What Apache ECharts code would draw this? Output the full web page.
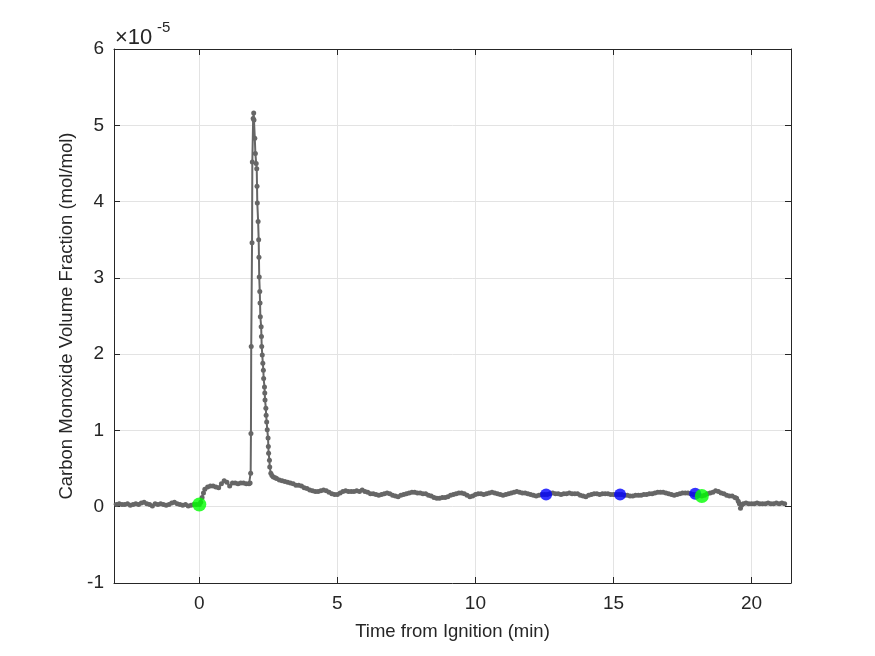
<!DOCTYPE html>
<html>
<head>
<meta charset="utf-8">
<script src="https://cdn.jsdelivr.net/npm/echarts@6/dist/echarts.min.js"></script>
<style>
  html, body { margin: 0; padding: 0; background: #fff; }
  #chart { width: 875px; height: 656px; }
</style>
</head>
<body>
<div id="chart"></div>
<script>
// CO volume fraction, values in units of 1e-5 mol/mol, time in minutes from ignition
var preIgnition = [
  [-3.1, 0.04], [-3.0, 0.03], [-2.9, 0.04], [-2.8, 0.03], [-2.7, 0.03], [-2.6, 0.04],
  [-2.5, 0.02], [-2.4, 0.03], [-2.3, 0.04], [-2.2, 0.03], [-2.1, 0.05], [-2.0, 0.06],
  [-1.9, 0.04], [-1.8, 0.03], [-1.7, 0.01], [-1.6, 0.04], [-1.5, 0.03], [-1.4, 0.04],
  [-1.3, 0.03], [-1.2, 0.02], [-1.1, 0.03], [-1.0, 0.05], [-0.9, 0.06], [-0.8, 0.04],
  [-0.7, 0.03], [-0.6, 0.02], [-0.5, 0.03], [-0.4, 0.01], [-0.3, 0.02], [-0.2, 0.03],
  [-0.1, 0.03], [0.0, 0.03]
];
var plateau = [
  [0.05, 0.06], [0.1, 0.12], [0.15, 0.18], [0.2, 0.23], [0.3, 0.26], [0.4, 0.27],
  [0.5, 0.27], [0.6, 0.26], [0.7, 0.25], [0.8, 0.30], [0.9, 0.34], [1.0, 0.32],
  [1.1, 0.27], [1.2, 0.31], [1.3, 0.31], [1.4, 0.30], [1.5, 0.31], [1.6, 0.31],
  [1.7, 0.30], [1.8, 0.30], [1.84, 0.31]
];
var spike = [
  [1.86, 0.44], [1.87, 0.96], [1.88, 2.10], [1.91, 3.46], [1.92, 4.52], [1.95, 5.09],
  [1.97, 5.16], [1.98, 5.07], [2.01, 4.83], [2.03, 4.63], [2.06, 4.50], [2.08, 4.43],
  [2.09, 4.20], [2.10, 3.98], [2.13, 3.74], [2.15, 3.50], [2.16, 3.27], [2.17, 3.01],
  [2.19, 2.82], [2.20, 2.67], [2.21, 2.49], [2.24, 2.36], [2.25, 2.23], [2.26, 2.10],
  [2.28, 1.99], [2.30, 1.88], [2.32, 1.79], [2.33, 1.68], [2.36, 1.57], [2.37, 1.49],
  [2.38, 1.40], [2.41, 1.29], [2.42, 1.20], [2.44, 1.11], [2.46, 1.01], [2.49, 0.90],
  [2.50, 0.79], [2.51, 0.70], [2.54, 0.61], [2.55, 0.52], [2.59, 0.44], [2.63, 0.41],
  [2.68, 0.39], [2.75, 0.38], [2.8, 0.37], [2.9, 0.35], [3.0, 0.34]
];
var decay = [
  [3.1, 0.33], [3.2, 0.32], [3.3, 0.31], [3.4, 0.30], [3.5, 0.28], [3.6, 0.28],
  [3.7, 0.27], [3.8, 0.25], [3.9, 0.24], [4.0, 0.22], [4.1, 0.21], [4.2, 0.20],
  [4.3, 0.20], [4.4, 0.21], [4.5, 0.22], [4.6, 0.21], [4.7, 0.19], [4.8, 0.17],
  [4.9, 0.16], [5.0, 0.16], [5.1, 0.18], [5.2, 0.20], [5.3, 0.21], [5.4, 0.20],
  [5.5, 0.20], [5.6, 0.20], [5.7, 0.21], [5.8, 0.20], [5.9, 0.22], [6.0, 0.20],
  [6.1, 0.19], [6.2, 0.17], [6.3, 0.17], [6.4, 0.16], [6.5, 0.15], [6.6, 0.16],
  [6.7, 0.17], [6.8, 0.18], [6.9, 0.17], [7.0, 0.15], [7.1, 0.14], [7.2, 0.13],
  [7.3, 0.15], [7.4, 0.16], [7.5, 0.17], [7.6, 0.18], [7.7, 0.19], [7.8, 0.19],
  [7.9, 0.18], [8.0, 0.18], [8.1, 0.17], [8.2, 0.17], [8.3, 0.15], [8.4, 0.14],
  [8.5, 0.12], [8.6, 0.11], [8.7, 0.11], [8.8, 0.12], [8.9, 0.12], [9.0, 0.13],
  [9.1, 0.15], [9.2, 0.16], [9.3, 0.17], [9.4, 0.18], [9.5, 0.18], [9.6, 0.17],
  [9.7, 0.15], [9.8, 0.13], [9.9, 0.14], [10.0, 0.16], [10.1, 0.17], [10.2, 0.17],
  [10.3, 0.16], [10.4, 0.17], [10.5, 0.18], [10.6, 0.19], [10.7, 0.18], [10.8, 0.17],
  [10.9, 0.16], [11.0, 0.15], [11.1, 0.16], [11.2, 0.17], [11.3, 0.18], [11.4, 0.19],
  [11.5, 0.20], [11.6, 0.19], [11.7, 0.18], [11.8, 0.18], [11.9, 0.17], [12.0, 0.16],
  [12.1, 0.15], [12.2, 0.14], [12.3, 0.15], [12.4, 0.16], [12.5, 0.16], [12.6, 0.16],
  [12.7, 0.17], [12.8, 0.18], [12.9, 0.17], [13.0, 0.17], [13.1, 0.16], [13.2, 0.17],
  [13.3, 0.17], [13.4, 0.18], [13.5, 0.17], [13.6, 0.17], [13.7, 0.17], [13.8, 0.15],
  [13.9, 0.14], [14.0, 0.13], [14.1, 0.15], [14.2, 0.16], [14.3, 0.17], [14.4, 0.17],
  [14.5, 0.16], [14.6, 0.17], [14.7, 0.17], [14.8, 0.17], [14.9, 0.16], [15.0, 0.16],
  [15.1, 0.16], [15.2, 0.16], [15.3, 0.16], [15.4, 0.15], [15.5, 0.15], [15.6, 0.14],
  [15.7, 0.14], [15.8, 0.15], [15.9, 0.15], [16.0, 0.15], [16.1, 0.16], [16.2, 0.16],
  [16.3, 0.17], [16.4, 0.17], [16.5, 0.18], [16.6, 0.19], [16.7, 0.19], [16.8, 0.19],
  [16.9, 0.18], [17.0, 0.17], [17.1, 0.16], [17.2, 0.15], [17.3, 0.16], [17.4, 0.17],
  [17.5, 0.18], [17.6, 0.18], [17.7, 0.18], [17.8, 0.17], [17.9, 0.16], [18.0, 0.16],
  [18.1, 0.15], [18.2, 0.14], [18.3, 0.15], [18.4, 0.17], [18.5, 0.18], [18.6, 0.19],
  [18.7, 0.21], [18.8, 0.20], [18.9, 0.18], [19.0, 0.17], [19.1, 0.15], [19.2, 0.14],
  [19.3, 0.14], [19.4, 0.12], [19.46, 0.11], [19.52, 0.07], [19.56, 0.04], [19.6, -0.02],
  [19.64, 0.02], [19.7, 0.04]
];
var postRun = [
  [19.8, 0.05], [19.9, 0.04], [20.0, 0.04], [20.1, 0.04], [20.2, 0.05], [20.3, 0.04],
  [20.4, 0.04], [20.5, 0.04], [20.6, 0.05], [20.7, 0.04], [20.8, 0.04], [20.9, 0.05],
  [21.0, 0.04], [21.1, 0.05], [21.2, 0.04]
];
var blueMarks = [[12.56, 0.16], [15.24, 0.16], [17.96, 0.17]];
var greenMarks = [[0.0, 0.03], [18.2, 0.14]];
var xTicks = [0, 5, 10, 15, 20];

var coLine = preIgnition.concat(plateau, spike, decay, postRun);

var chart = echarts.init(document.getElementById('chart'));
var txt = '#262626';
var gridCol = '#e3e3e3';
var font = 'Liberation Sans, Arial, sans-serif';

var option = {
  animation: false,
  backgroundColor: '#fff',
  grid: { left: 114, right: 84, top: 49, bottom: 73, containLabel: false },
  xAxis: [{
    type: 'value', min: -3.09, max: 21.43,
    name: 'Time from Ignition (min)', nameLocation: 'middle', nameGap: 39,
    nameTextStyle: { color: txt, fontSize: 18.5, fontFamily: font },
    axisLine: { show: true, onZero: false, lineStyle: { color: txt, width: 1 } },
    axisTick: { show: true, inside: true, length: 6, customValues: xTicks, lineStyle: { color: txt } },
    axisLabel: { customValues: xTicks, color: txt, fontSize: 19, fontFamily: font, margin: 11 },
    splitLine: { show: true, lineStyle: { color: gridCol, width: 1 } }
  }, {
    type: 'value', min: -3.09, max: 21.43, position: 'top',
    axisLine: { show: true, onZero: false, lineStyle: { color: txt, width: 1 } },
    axisTick: { show: true, inside: true, length: 6, customValues: xTicks, lineStyle: { color: txt } },
    axisLabel: { show: false },
    splitLine: { show: false }
  }],
  yAxis: [{
    type: 'value', min: -1, max: 6, interval: 1,
    name: 'Carbon Monoxide Volume Fraction (mol/mol)', nameLocation: 'middle', nameGap: 35,
    nameTextStyle: { color: txt, fontSize: 18.5, fontFamily: font },
    axisLine: { show: true, onZero: false, lineStyle: { color: txt, width: 1 } },
    axisTick: { show: true, inside: true, length: 6, lineStyle: { color: txt } },
    axisLabel: { color: txt, fontSize: 19, fontFamily: font, margin: 10 },
    splitLine: { show: true, lineStyle: { color: gridCol, width: 1 } }
  }, {
    type: 'value', min: -1, max: 6, interval: 1, position: 'right',
    axisLine: { show: true, onZero: false, lineStyle: { color: txt, width: 1 } },
    axisTick: { show: true, inside: true, length: 6, lineStyle: { color: txt } },
    axisLabel: { show: false },
    splitLine: { show: false }
  }],
  graphic: [{
    type: 'text', x: 115, y: 38,
    style: { text: '\u00d710', fontSize: 22, fontFamily: font, fill: txt, verticalAlign: 'middle' }
  }, {
    type: 'text', x: 157, y: 28,
    style: { text: '-5', fontSize: 15, fontFamily: font, fill: txt, verticalAlign: 'middle' }
  }],
  series: [{
    type: 'line',
    data: coLine,
    xAxisIndex: 0, yAxisIndex: 0,
    symbol: 'circle', symbolSize: 5, showSymbol: true,
    lineStyle: { color: '#666666', width: 2 },
    itemStyle: { color: '#666666' },
    z: 2
  }, {
    type: 'scatter', data: blueMarks,
    symbolSize: 12, itemStyle: { color: '#0000ff' }, z: 3
  }, {
    type: 'scatter', data: greenMarks,
    symbolSize: 14, itemStyle: { color: '#00ff00' }, z: 4
  }]
};
chart.setOption(option);
</script>
</body>
</html>
